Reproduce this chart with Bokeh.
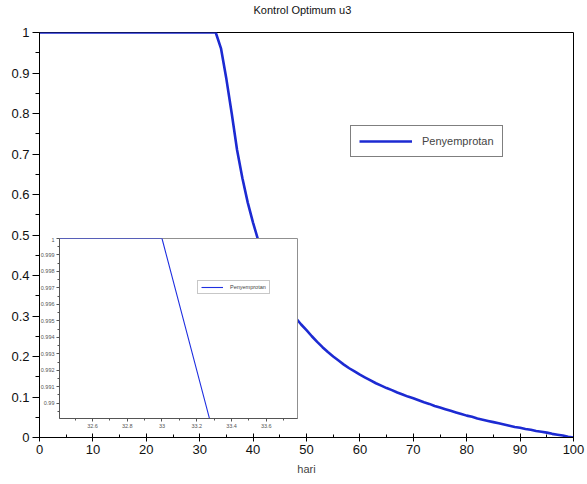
from bokeh.plotting import figure
from bokeh.models import Range1d, FixedTicker, Legend, LegendItem, ColumnDataSource, Title
from bokeh.layouts import column
from bokeh.embed import file_html
from bokeh.resources import INLINE

# Daily optimal control u3 (spraying) over the 100-day horizon
hari = list(range(0, 101))
u3 = [
    1.0, 1.0, 1.0, 1.0, 1.0, 1.0, 1.0, 1.0, 1.0, 1.0,
    1.0, 1.0, 1.0, 1.0, 1.0, 1.0, 1.0, 1.0, 1.0, 1.0,
    1.0, 1.0, 1.0, 1.0, 1.0, 1.0, 1.0, 1.0, 1.0, 1.0,
    1.0, 1.0, 1.0, 1.0, 0.96, 0.885, 0.80, 0.71, 0.64, 0.58,
    0.53, 0.485, 0.447, 0.413, 0.383, 0.357, 0.334, 0.313, 0.295, 0.279,
    0.265, 0.250, 0.236, 0.223, 0.211, 0.200, 0.190, 0.180, 0.171, 0.163,
    0.155, 0.148, 0.141, 0.134, 0.128, 0.122, 0.117, 0.111, 0.106, 0.101,
    0.097, 0.092, 0.087, 0.083, 0.078, 0.074, 0.070, 0.066, 0.062, 0.058,
    0.054, 0.051, 0.047, 0.044, 0.041, 0.038, 0.035, 0.032, 0.029, 0.026,
    0.024, 0.021, 0.019, 0.016, 0.014, 0.012, 0.009, 0.007, 0.005, 0.002,
    0.0,
]

x_ticks = [0, 10, 20, 30, 40, 50, 60, 70, 80, 90, 100]
x_minor = [5, 15, 25, 35, 45, 55, 65, 75, 85, 95]
y_ticks = [0.0, 0.1, 0.2, 0.3, 0.4, 0.5, 0.6, 0.7, 0.8, 0.9, 1.0]
y_labels = ["0", "0.1", "0.2", "0.3", "0.4", "0.5", "0.6", "0.7", "0.8", "0.9", "1"]
y_minor = [0.05, 0.15, 0.25, 0.35, 0.45, 0.55, 0.65, 0.75, 0.85, 0.95]

# zoomed view around the switching time
zoom_x_range = (32.41, 33.78)
zoom_y_range = (0.98907, 1.0)
zoom_x_ticks = [32.6, 32.8, 33.0, 33.2, 33.4, 33.6]
zoom_x_labels = ["32.6", "32.8", "33", "33.2", "33.4", "33.6"]
zoom_x_minor = [32.5, 32.7, 32.9, 33.1, 33.3, 33.5, 33.7]
zoom_y_ticks = [0.99, 0.991, 0.992, 0.993, 0.994, 0.995, 0.996, 0.997, 0.998, 0.999, 1.0]
zoom_y_labels = ["0.99", "0.991", "0.992", "0.993", "0.994", "0.995",
                 "0.996", "0.997", "0.998", "0.999", "1"]
zoom_y_minor = [0.9895, 0.9905, 0.9915, 0.9925, 0.9935, 0.9945,
                0.9955, 0.9965, 0.9975, 0.9985, 0.9995]

FONT = "Liberation Sans"
LINE_BLUE = "#1c2ad2"

source = ColumnDataSource(data=dict(hari=hari, u3=u3))

# ---------------- main chart ----------------
p = figure(width=587, height=484,
           x_range=Range1d(0, 100), y_range=Range1d(0, 1),
           output_backend="svg", toolbar_location=None,
           min_border_left=39, min_border_right=14,
           min_border_top=32, min_border_bottom=47,
           title="Kontrol Optimum u3")
p.title.align = "left"
p.title.offset = 214
p.title.standoff = 0
p.title.text_font = FONT
p.title.text_font_size = "11px"
p.title.text_font_style = "normal"
p.title.text_color = "#111111"
# blank band between the title and the frame
p.add_layout(Title(text=" ", text_font_size="13px", standoff=0), "above")
p.grid.visible = False
p.outline_line_color = "black"
p.outline_line_width = 1
p.background_fill_color = "white"
p.border_fill_color = "white"

p.xaxis.ticker = FixedTicker(ticks=x_ticks, minor_ticks=x_minor)
p.xaxis.major_label_overrides = {t: str(t) for t in x_ticks}
p.xaxis.axis_label = "hari"
p.xaxis.axis_label_text_font = FONT
p.xaxis.axis_label_text_font_size = "11px"
p.xaxis.axis_label_text_font_style = "normal"
p.xaxis.axis_label_standoff = 6
p.xaxis.major_tick_in = 4
p.xaxis.major_tick_out = 4
p.xaxis.minor_tick_in = 3
p.xaxis.minor_tick_out = 0
p.xaxis.major_label_standoff = 3

p.yaxis.ticker = FixedTicker(ticks=y_ticks, minor_ticks=y_minor)
p.yaxis.major_label_overrides = dict(zip(y_ticks, y_labels))
p.yaxis.major_tick_in = 0
p.yaxis.major_tick_out = 7
p.yaxis.minor_tick_in = 0
p.yaxis.minor_tick_out = 4
p.yaxis.major_label_standoff = 3

for ax in (p.xaxis, p.yaxis):
    ax.major_label_text_font = FONT
    ax.major_label_text_font_size = "13px"
    ax.major_label_text_color = "#111111"
    ax.axis_line_color = "black"
    ax.major_tick_line_color = "black"
    ax.minor_tick_line_color = "black"

main_line = p.line("hari", "u3", source=source, line_color=LINE_BLUE, line_width=2.6)

legend = Legend(items=[LegendItem(label="Penyemprotan", renderers=[main_line])],
                location=(311, 280))
legend.margin = 0
legend.padding = 8
legend.spacing = 0
legend.glyph_width = 53
legend.glyph_height = 14
legend.label_standoff = 10
legend.label_text_font = FONT
legend.label_text_font_size = "11px"
legend.label_height = 14
legend.border_line_color = "black"
legend.border_line_width = 1
legend.background_fill_color = "white"
legend.background_fill_alpha = 1
p.add_layout(legend)

# ---------------- inset (zoom on the switch) ----------------
# The column lines up the left/right borders of both plots (39 / 14 px),
# so the inset canvas is shifted and widened to put its frame at 59..297.
z = figure(width=291, height=195,
           x_range=Range1d(*zoom_x_range), y_range=Range1d(*zoom_y_range),
           output_backend="svg", toolbar_location=None,
           min_border_left=39, min_border_right=14,
           min_border_top=1, min_border_bottom=14)
z.grid.visible = False
z.border_fill_alpha = 0
z.background_fill_color = "white"
z.outline_line_color = "#909090"
z.margin = (-247, 0, 0, 20)

z.xaxis.ticker = FixedTicker(ticks=zoom_x_ticks, minor_ticks=zoom_x_minor)
z.xaxis.major_label_overrides = dict(zip(zoom_x_ticks, zoom_x_labels))
z.yaxis.ticker = FixedTicker(ticks=zoom_y_ticks, minor_ticks=zoom_y_minor)
z.yaxis.major_label_overrides = dict(zip(zoom_y_ticks, zoom_y_labels))
for ax in (z.xaxis, z.yaxis):
    ax.major_label_text_font = FONT
    ax.major_label_text_font_size = "5.5px"
    ax.major_label_text_color = "#555555"
    ax.axis_line_color = "#555555"
    ax.major_tick_line_color = "#555555"
    ax.minor_tick_line_color = "#555555"
    ax.major_tick_in = 0
    ax.major_tick_out = 3
    ax.minor_tick_in = 0
    ax.minor_tick_out = 2
    ax.major_label_standoff = 2

zoom_line = z.line("hari", "u3", source=source, line_color="#1f2fe0", line_width=1.1)

zlegend = Legend(items=[LegendItem(label="Penyemprotan", renderers=[zoom_line])],
                 location=(138, 124))
zlegend.margin = 0
zlegend.padding = 3
zlegend.spacing = 0
zlegend.glyph_width = 22
zlegend.glyph_height = 6
zlegend.label_standoff = 7
zlegend.label_text_font = FONT
zlegend.label_text_font_size = "5.5px"
zlegend.label_height = 6
zlegend.border_line_color = "#909090"
zlegend.border_line_width = 1
zlegend.background_fill_color = "white"
z.add_layout(zlegend)

layout = column(p, z, spacing=0)

with open("out.html", "w") as f:
    f.write(file_html(layout, INLINE))
